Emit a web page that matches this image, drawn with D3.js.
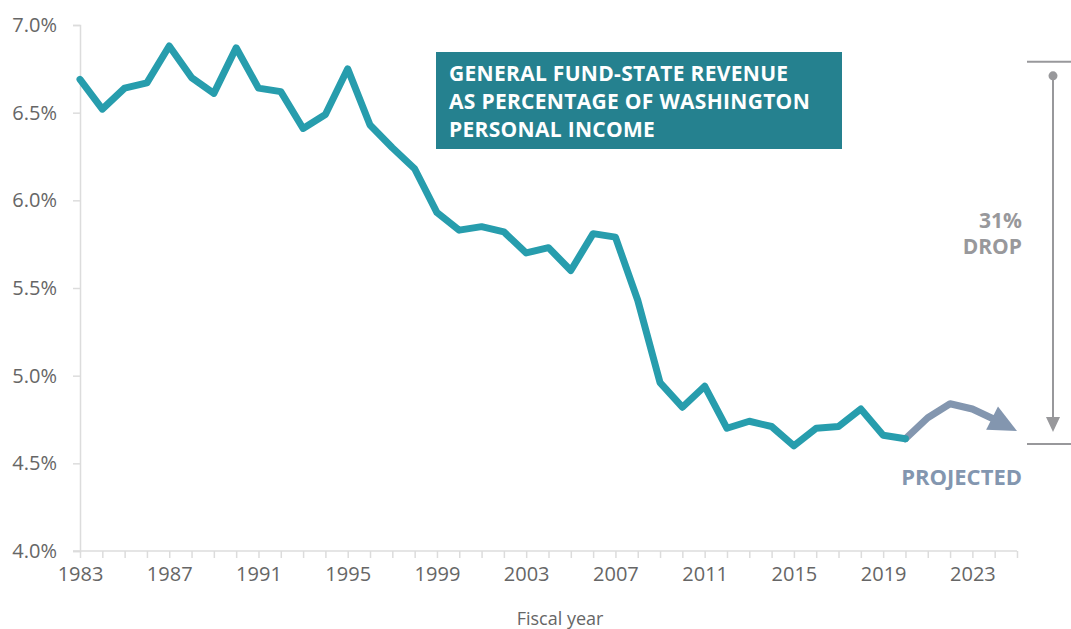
<!DOCTYPE html>
<html>
<head>
<meta charset="utf-8">
<script src="https://cdn.jsdelivr.net/npm/d3@7"></script>
<style>
  body { margin: 0; background: #fff; }
  svg { display: block; font-family: "Open Sans", sans-serif; }
  svg text { font-family: "Open Sans", sans-serif; }
</style>
</head>
<body>
<script>
// actual revenue share, fiscal years 1983-2020
var actualYears = d3.range(1983, 2021);
var actualValues = [6.69, 6.52, 6.64, 6.67, 6.88, 6.70, 6.61, 6.87, 6.64, 6.62,
  6.41, 6.49, 6.75, 6.43, 6.30, 6.18, 5.93, 5.83, 5.85, 5.82,
  5.70, 5.73, 5.60, 5.81, 5.79, 5.43, 4.96, 4.82, 4.94, 4.70,
  4.74, 4.71, 4.60, 4.70, 4.71, 4.81, 4.66, 4.64];

// projected values, 2020-2025
var projYears = [2020, 2021, 2022, 2023, 2024, 2025];
var projValues = [4.64, 4.76, 4.84, 4.81, 4.75, 4.685];

var yTicks = [4.0, 4.5, 5.0, 5.5, 6.0, 6.5, 7.0];
var xTickLabels = [1983, 1987, 1991, 1995, 1999, 2003, 2007, 2011, 2015, 2019, 2023];
var titleLines = ["GENERAL FUND-STATE REVENUE", "AS PERCENTAGE OF WASHINGTON", "PERSONAL INCOME"];
var dropRange = [6.79, 4.61];

var width = 1071, height = 629;
var margin = {top: 25, right: 54, bottom: 78, left: 80};

var svg = d3.select("body").append("svg")
    .attr("width", width)
    .attr("height", height);

var x = d3.scaleLinear()
    .domain([1983, 2025])
    .range([margin.left, width - margin.right]);
var y = d3.scaleLinear()
    .domain([4, 7])
    .range([height - margin.bottom, margin.top]);

var axisColor = "#dcdcdc";
var textColor = "#666666";

// y axis
var yAxis = svg.append("g")
    .attr("transform", "translate(" + margin.left + ",0)")
    .call(d3.axisLeft(y).tickValues(yTicks).tickSize(7).tickPadding(16)
      .tickFormat(function(d) { return d.toFixed(1) + "%"; }));
yAxis.attr("font-family", null);
yAxis.select(".domain").attr("stroke", axisColor).attr("stroke-width", 1.5);
yAxis.selectAll(".tick line").attr("stroke", axisColor).attr("stroke-width", 1.5);
yAxis.selectAll(".tick text")
    .attr("fill", textColor)
    .style("font-size", "20px");

// x axis
var xAxis = svg.append("g")
    .attr("transform", "translate(0," + y(4) + ")")
    .call(d3.axisBottom(x).tickValues(d3.range(1983, 2026)).tickSize(7).tickPadding(9)
      .tickFormat(function(d) { return xTickLabels.indexOf(d) >= 0 ? d : ""; }));
xAxis.attr("font-family", null);
xAxis.select(".domain").attr("stroke", axisColor).attr("stroke-width", 1.5)
    .attr("d", "M" + (margin.left - 7) + ",0H" + x(2025));
xAxis.selectAll(".tick line").attr("stroke", axisColor).attr("stroke-width", 1.5);
xAxis.selectAll(".tick text")
    .attr("fill", textColor)
    .style("font-size", "20px");

svg.append("text")
    .attr("x", 560)
    .attr("y", 625)
    .attr("text-anchor", "middle")
    .attr("fill", textColor)
    .style("font-size", "18px")
    .text("Fiscal year");

// lines
var line = d3.line()
    .x(function(d) { return x(d[0]); })
    .y(function(d) { return y(d[1]); });

var actual = d3.zip(actualYears, actualValues);
var proj = d3.zip(projYears, projValues);

// projected line stops at the arrowhead base
var tip = proj[proj.length - 1];
var prev = proj[proj.length - 2];
var tx = x(tip[0]), ty = y(tip[1]);
var px = x(prev[0]), py = y(prev[1]);
var ang = Math.atan2(ty - py, tx - px);
var headLen = 28, headHalf = 13;
var bx = tx - headLen * Math.cos(ang), by = ty - headLen * Math.sin(ang);

var projPts = proj.slice(0, -1).map(function(d) { return [x(d[0]), y(d[1])]; });
projPts.push([bx, by]);

svg.append("path")
    .attr("d", d3.line()(projPts))
    .attr("fill", "none")
    .attr("stroke", "#8396af")
    .attr("stroke-width", 7)
    .attr("stroke-linejoin", "round")
    .attr("stroke-linecap", "round");

svg.append("path")
    .attr("d", "M" + tx + "," + ty +
      "L" + (bx + headHalf * Math.sin(ang)) + "," + (by - headHalf * Math.cos(ang)) +
      "L" + (bx - headHalf * Math.sin(ang)) + "," + (by + headHalf * Math.cos(ang)) + "Z")
    .attr("fill", "#8396af");

svg.append("path")
    .datum(actual)
    .attr("d", line)
    .attr("fill", "none")
    .attr("stroke", "#279dad")
    .attr("stroke-width", 7)
    .attr("stroke-linejoin", "round")
    .attr("stroke-linecap", "round");

svg.append("text")
    .attr("x", 1022)
    .attr("y", 485)
    .attr("text-anchor", "end")
    .attr("fill", "#8396af")
    .style("font-size", "22px")
    .style("font-weight", "bold")
    .text("PROJECTED");

// title box
svg.append("rect")
    .attr("x", 436)
    .attr("y", 52)
    .attr("width", 406)
    .attr("height", 97)
    .attr("fill", "#25818f");

svg.selectAll(".title")
    .data(titleLines)
  .enter().append("text")
    .attr("class", "title")
    .attr("x", 449)
    .attr("y", function(d, i) { return 81 + i * 28; })
    .attr("fill", "#fff")
    .style("font-size", "21px")
    .style("font-weight", "bold")
    .style("letter-spacing", "0.3px")
    .text(function(d) { return d; });

// drop annotation
var grey = "#98989b";
var ax = 1053;
svg.append("line")
    .attr("x1", 1027).attr("x2", width)
    .attr("y1", y(dropRange[0])).attr("y2", y(dropRange[0]))
    .attr("stroke", grey).attr("stroke-width", 2);
svg.append("line")
    .attr("x1", 1027).attr("x2", width)
    .attr("y1", y(dropRange[1])).attr("y2", y(dropRange[1]))
    .attr("stroke", grey).attr("stroke-width", 2);
svg.append("circle")
    .attr("cx", ax).attr("cy", y(dropRange[0]) + 14)
    .attr("r", 4.5)
    .attr("fill", grey);
svg.append("line")
    .attr("x1", ax).attr("x2", ax)
    .attr("y1", y(dropRange[0]) + 14).attr("y2", y(dropRange[1]) - 22)
    .attr("stroke", grey).attr("stroke-width", 2);
var at = y(dropRange[1]) - 12;
svg.append("path")
    .attr("d", "M" + ax + "," + at + "L" + (ax - 7) + "," + (at - 15) + "L" + (ax + 7) + "," + (at - 15) + "Z")
    .attr("fill", grey);

svg.append("text")
    .attr("x", 1022).attr("y", 228)
    .attr("text-anchor", "end")
    .attr("fill", grey)
    .style("font-size", "21px").style("font-weight", "bold")
    .text("31%");
svg.append("text")
    .attr("x", 1022).attr("y", 254)
    .attr("text-anchor", "end")
    .attr("fill", grey)
    .style("font-size", "21px").style("font-weight", "bold")
    .text("DROP");
</script>
</body>
</html>
